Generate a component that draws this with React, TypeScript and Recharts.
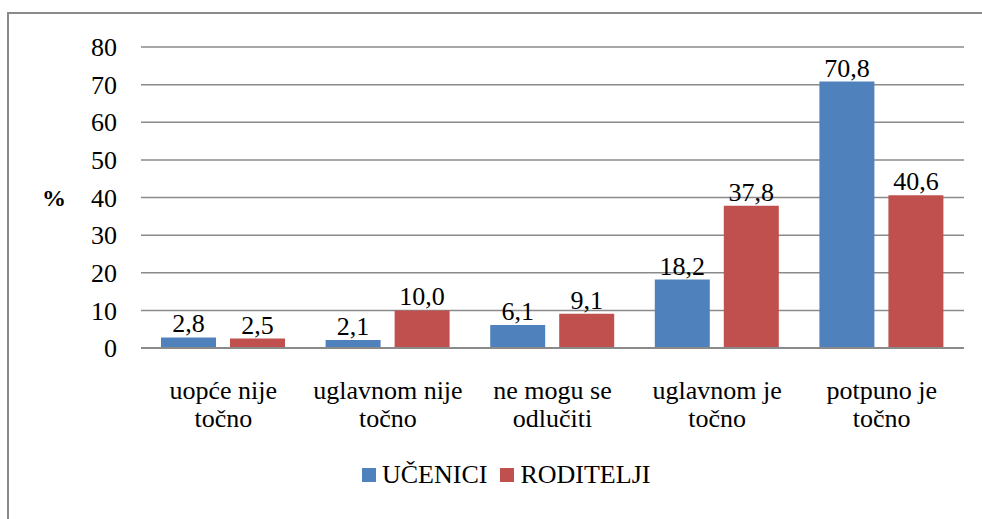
import { BarChart, Bar, XAxis, YAxis, CartesianGrid, Legend, LabelList } from 'recharts';

const categories = [
  ['uopće nije', 'točno'],
  ['uglavnom nije', 'točno'],
  ['ne mogu se', 'odlučiti'],
  ['uglavnom je', 'točno'],
  ['potpuno je', 'točno'],
];
const ucenici = [2.8, 2.1, 6.1, 18.2, 70.8];
const roditelji = [2.5, 10.0, 9.1, 37.8, 40.6];
const yTicks = [0, 10, 20, 30, 40, 50, 60, 70, 80];

const FONT = 'Liberation Serif, DejaVu Serif, serif';
const BLUE = '#4F81BD';
const RED = '#C0504D';
const GRID = '#8a8a8a';

const data = categories.map((c, i) => ({
  key: c.join(' '),
  ucenici: ucenici[i],
  roditelji: roditelji[i],
}));

const fmt = (v: number) => v.toFixed(1).replace('.', ',');

function CategoryTick(props: any) {
  const { x, y, index } = props;
  const lines = categories[index] ?? [];
  return (
    <text x={x} y={y} textAnchor="middle" style={{ fontFamily: FONT }} fontSize={26} fill="#000">
      {lines.map((l, i) => (
        <tspan key={i} x={x} y={y + 49 + i * 28}>
          {l}
        </tspan>
      ))}
    </text>
  );
}

function LegendContent() {
  const items = [
    { name: 'UČENICI', color: BLUE },
    { name: 'RODITELJI', color: RED },
  ];
  return (
    <div style={{ display: 'flex', alignItems: 'center', fontFamily: FONT, fontSize: 26, color: '#000' }}>
      {items.map((it) => (
        <div key={it.name} style={{ display: 'flex', alignItems: 'center', marginRight: 13 }}>
          <span style={{ width: 14, height: 14, background: it.color, display: 'inline-block', marginRight: 6 }} />
          <span style={{ lineHeight: '26px' }}>{it.name}</span>
        </div>
      ))}
    </div>
  );
}

export default function App() {
  return (
    <div style={{ position: 'fixed', left: 0, top: 0, width: 982, height: 519, background: '#fff', overflow: 'hidden', fontFamily: FONT }}>
      <div
        style={{
          position: 'absolute',
          left: 7,
          top: 12,
          width: 1100,
          height: 600,
          border: '2px solid #8a8a8a',
        }}
      />
      <div style={{ position: 'absolute', left: 0, top: 0 }}>
        <BarChart
          width={982}
          height={519}
          data={data}
          margin={{ top: 47, right: 18, left: 0, bottom: 71 }}
          barCategoryGap={20}
          barGap={14}
          style={{ fontFamily: FONT }}
        >
          <CartesianGrid vertical={false} stroke={GRID} strokeWidth={1.5} />
          <XAxis
            dataKey="key"
            height={100}
            interval={0}
            tick={<CategoryTick />}
            tickLine={false}
            tickSize={0}
            axisLine={{ stroke: GRID, strokeWidth: 2 }}
          />
          <YAxis
            width={141}
            domain={[0, 80]}
            ticks={yTicks}
            interval={0}
            axisLine={false}
            tickLine={false}
            tickSize={0}
            tickMargin={24}
            tick={{ style: { fontFamily: FONT }, fontSize: 26, fill: '#000' }}
            label={{
              value: '%',
              position: 'insideLeft',
              offset: 42,
              style: { fontFamily: FONT, fontSize: 24, fontWeight: 'bold', fill: '#000' },
            }}
          />
          <Legend
            layout="horizontal"
            verticalAlign="middle"
            align="center"
            content={<LegendContent />}
            wrapperStyle={{ position: 'absolute', left: 362, top: 462, width: 400, height: 26 }}
          />
          <Bar dataKey="ucenici" name="UČENICI" fill={BLUE} barSize={55} isAnimationActive={false}>
            <LabelList
              dataKey="ucenici"
              position="top"
              formatter={(v: any) => fmt(Number(v))}
              style={{ fontFamily: FONT, fontSize: 26, fill: '#000' }}
            />
          </Bar>
          <Bar dataKey="roditelji" name="RODITELJI" fill={RED} barSize={55} isAnimationActive={false}>
            <LabelList
              dataKey="roditelji"
              position="top"
              formatter={(v: any) => fmt(Number(v))}
              style={{ fontFamily: FONT, fontSize: 26, fill: '#000' }}
            />
          </Bar>
        </BarChart>
      </div>
    </div>
  );
}
